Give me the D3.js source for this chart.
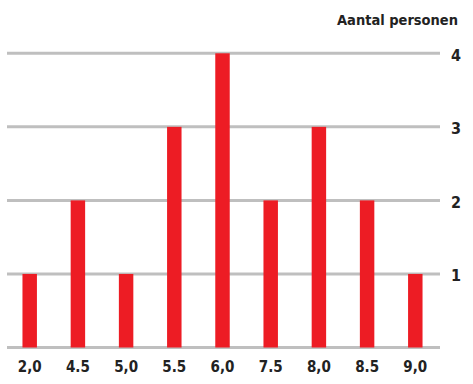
<!DOCTYPE html>
<html><head><meta charset="utf-8">
<script src="https://cdn.jsdelivr.net/npm/d3@7"></script>
<style>
body{margin:0;background:#fff;}
text{font-family:"DejaVu Sans Condensed","Liberation Sans Narrow",sans-serif;font-stretch:condensed;font-weight:bold;fill:#222;}
</style></head>
<body><svg id="c" width="473" height="384"></svg>
<script>
const categories = ["2,0","4.5","5,0","5.5","6,0","7.5","8,0","8.5","9,0"];
const values = [1,2,1,3,4,2,3,2,1];
const yTicks = [1,2,3,4];
const title = "Aantal personen";

const svg = d3.select("#c");
const x = d3.scaleBand().domain(categories).range([5.6, 439.4]).padding(0);
const y = d3.scaleLinear().domain([0,4]).range([347.5, 53.3]);
const barW = x.bandwidth()*0.3;

// gridlines
svg.append("g").selectAll("line").data([0].concat(yTicks)).join("line")
  .attr("x1",7).attr("x2",440)
  .attr("y1",d=>y(d)).attr("y2",d=>y(d))
  .attr("stroke","#bfbfbf").attr("stroke-width",3);

// bars
svg.append("g").selectAll("rect").data(values).join("rect")
  .attr("x",(d,i)=>x(categories[i])+x.bandwidth()/2-barW/2)
  .attr("width",barW)
  .attr("y",d=>y(d))
  .attr("height",d=>y(0)-y(d))
  .attr("fill","#ed1c24");

// right axis labels
const yAxis = d3.axisRight(y).tickValues(yTicks).tickFormat(d3.format("d")).tickSize(0).tickPadding(0);
const ga = svg.append("g").attr("transform","translate(461,0)").call(yAxis);
ga.select(".domain").remove();
ga.selectAll("text").attr("text-anchor","end").attr("dy",null).attr("y",7)
  .style("font-size","16px").attr("fill","#222");

// bottom labels
const xAxis = d3.axisBottom(x).tickSize(0).tickPadding(0);
const gx = svg.append("g").call(xAxis);
gx.select(".domain").remove();
gx.selectAll("text").attr("dy",null).attr("y",371.5)
  .style("font-size","15px").attr("fill","#222");

svg.append("text").attr("x",458).attr("y",24.5).attr("text-anchor","end")
  .style("font-size","14.5px").text(title);
</script></body></html>
